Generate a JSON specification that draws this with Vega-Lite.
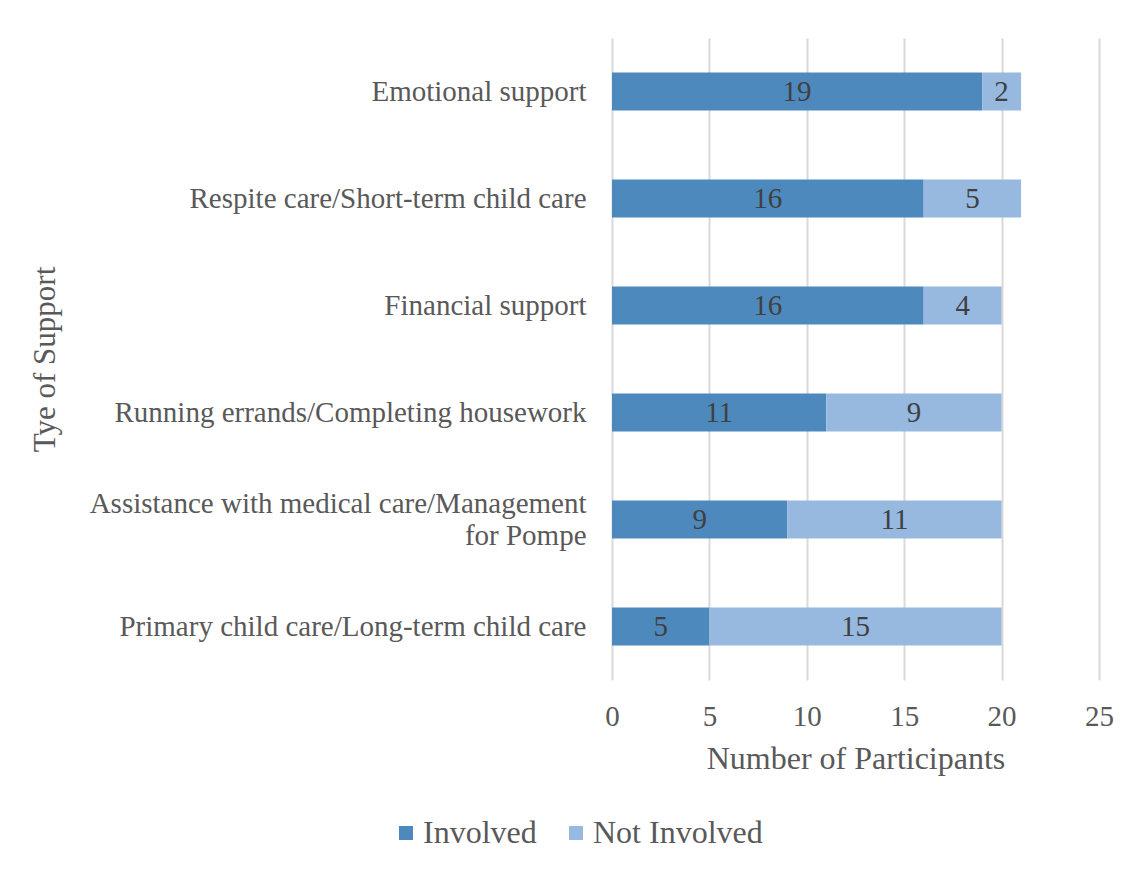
{
  "$schema": "https://vega.github.io/schema/vega-lite/v6.json",
  "autosize": {"type": "none"},
  "width": 487,
  "height": 642,
  "padding": {"left": 612, "top": 38, "right": 38, "bottom": 191},
  "background": "white",
  "config": {
    "font": "Liberation Serif",
    "view": {"stroke": null},
    "axis": {"labelFont": "Liberation Serif", "titleFont": "Liberation Serif", "labelColor": "#595959", "titleColor": "#595959", "titleFontWeight": "normal"}
  },
  "data": {
    "values": [
      {"support": "Emotional support", "status": "Involved", "count": 19},
      {"support": "Emotional support", "status": "Not Involved", "count": 2},
      {"support": "Respite care/Short-term child care", "status": "Involved", "count": 16},
      {"support": "Respite care/Short-term child care", "status": "Not Involved", "count": 5},
      {"support": "Financial support", "status": "Involved", "count": 16},
      {"support": "Financial support", "status": "Not Involved", "count": 4},
      {"support": "Running errands/Completing housework", "status": "Involved", "count": 11},
      {"support": "Running errands/Completing housework", "status": "Not Involved", "count": 9},
      {"support": "Assistance with medical care/Management for Pompe", "status": "Involved", "count": 9},
      {"support": "Assistance with medical care/Management for Pompe", "status": "Not Involved", "count": 11},
      {"support": "Primary child care/Long-term child care", "status": "Involved", "count": 5},
      {"support": "Primary child care/Long-term child care", "status": "Not Involved", "count": 15}
    ]
  },
  "transform": [
    {"stack": "count", "groupby": ["support"], "sort": [{"field": "status", "order": "ascending"}], "as": ["x0", "x1"]},
    {"calculate": "(datum.x0 + datum.x1) / 2", "as": "mid"}
  ],
  "encoding": {
    "y": {
      "field": "support",
      "type": "nominal",
      "sort": null,
      "scale": {"paddingInner": 0.645, "paddingOuter": 0.3225},
      "axis": {
        "title": "Tye of Support",
        "titleFontSize": 31,
        "titleX": -567,
        "titleY": 321,
        "titleAngle": -90,
        "titleAlign": "center",
        "titleBaseline": "middle",
        "labelFontSize": 29,
        "labelPadding": 26,
        "labelLineHeight": 32,
        "labelBaseline": "middle",
        "labelOffset": {"condition": {"test": "datum.value == 'Assistance with medical care/Management for Pompe'", "value": -16}, "value": 0},
        "labelLimit": 600,
        "domain": false,
        "ticks": false,
        "labelExpr": "datum.label == 'Assistance with medical care/Management for Pompe' ? ['Assistance with medical care/Management', 'for Pompe'] : datum.label"
      }
    }
  },
  "layer": [
    {
      "mark": {"type": "bar"},
      "encoding": {
        "x": {
          "field": "x0",
          "type": "quantitative",
          "scale": {"domain": [0, 25], "nice": false},
          "axis": {
            "title": "Number of Participants",
            "titleFontSize": 32,
            "titlePadding": 12,
            "values": [0, 5, 10, 15, 20, 25],
            "labelFontSize": 29,
            "labelPadding": 22,
            "labelFlush": false,
            "domain": false,
            "ticks": false,
            "grid": true,
            "gridColor": "#d9d9d9",
            "gridWidth": 2
          }
        },
        "x2": {"field": "x1"},
        "color": {
          "field": "status",
          "type": "nominal",
          "scale": {"domain": ["Involved", "Not Involved"], "range": ["#4E89BD", "#97B9E0"]},
          "legend": {
            "title": null,
            "orient": "none",
            "direction": "horizontal",
            "legendX": -222,
            "legendY": 779,
            "labelFontSize": 32,
            "labelLimit": 400,
            "labelColor": "#595959",
            "labelFont": "Liberation Serif",
            "symbolType": "square",
            "symbolSize": 196,
            "symbolStrokeWidth": 0,
            "columnPadding": 23,
            "labelOffset": 1
          }
        }
      }
    },
    {
      "mark": {"type": "text", "fontSize": 29, "color": "#404040", "font": "Liberation Serif", "align": "center", "baseline": "middle"},
      "encoding": {
        "x": {"field": "mid", "type": "quantitative"},
        "text": {"field": "count", "type": "quantitative"}
      }
    }
  ]
}
